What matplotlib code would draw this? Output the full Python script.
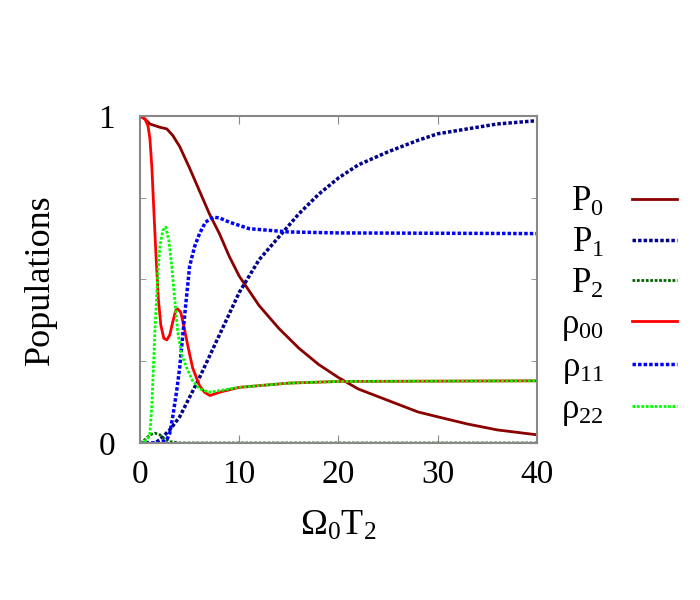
import numpy as np
import matplotlib.pyplot as plt
from matplotlib.ticker import MultipleLocator

plt.rcParams['font.family'] = 'Liberation Serif'
plt.rcParams['mathtext.fontset'] = 'custom'
plt.rcParams['mathtext.rm'] = 'Liberation Serif'
plt.rcParams['mathtext.it'] = 'Liberation Serif'

# values
p0_x = [0, 0.5, 1, 2, 2.7, 3.3, 4, 5, 6, 7, 8, 9, 10, 12, 14, 16, 18, 20, 22, 25, 28, 30, 33, 36, 40]
p0_y = [1, 0.99, 0.975, 0.965, 0.96, 0.94, 0.906, 0.84, 0.77, 0.7, 0.64, 0.57, 0.51, 0.42, 0.35, 0.29, 0.24, 0.2, 0.165, 0.13, 0.095, 0.08, 0.058, 0.04, 0.025]

p1_x = [0, 1.5, 2, 3, 4, 6, 8, 10, 12, 14, 16, 18, 20, 22, 25, 28, 30, 33, 36, 40]
p1_y = [0, 0, 0.01, 0.04, 0.08, 0.2, 0.33, 0.46, 0.56, 0.63, 0.7, 0.76, 0.81, 0.85, 0.89, 0.925, 0.945, 0.96, 0.975, 0.985]

p2_x = [0, 0.5, 1, 1.5, 2, 2.5, 3, 4, 40]
p2_y = [0, 0.01, 0.025, 0.03, 0.025, 0.012, 0.004, 0, 0]

r00_x = [0, 0.5, 0.8, 1.0, 1.2, 1.35, 1.6, 1.85, 2.1, 2.4, 2.7, 3.0, 3.3, 3.6, 3.8, 4.1, 4.4, 4.8, 5.3, 6, 6.5, 7.05, 8, 10, 15, 20, 40]
r00_y = [1, 0.99, 0.97, 0.93, 0.84, 0.74, 0.58, 0.44, 0.36, 0.32, 0.315, 0.33, 0.37, 0.405, 0.41, 0.4, 0.36, 0.3, 0.23, 0.175, 0.155, 0.145, 0.155, 0.17, 0.183, 0.188, 0.19]

r11_x = [0, 2, 2.7, 3.0, 3.3, 3.7, 4, 4.5, 5, 5.5, 6, 6.6, 7.4, 8, 9, 11, 15, 20, 40]
r11_y = [0, 0, 0.01, 0.03, 0.08, 0.16, 0.23, 0.39, 0.54, 0.6, 0.64, 0.675, 0.69, 0.688, 0.675, 0.655, 0.645, 0.642, 0.64]

r22_x = [0, 0.5, 0.8, 1, 1.2, 1.5, 1.8, 2, 2.3, 2.6, 2.9, 3.2, 3.5, 3.8, 4.2, 4.7, 5.3, 6, 7, 10, 15, 20, 40]
r22_y = [0, 0.005, 0.015, 0.03, 0.12, 0.34, 0.52, 0.6, 0.65, 0.66, 0.62, 0.54, 0.44, 0.34, 0.27, 0.23, 0.19, 0.165, 0.155, 0.17, 0.183, 0.188, 0.19]

fig = plt.figure(figsize=(7, 6), dpi=100)
ax = fig.add_axes([0.2, 0.2617, 0.567, 0.5453])

ax.plot(p0_x, p0_y, color='#8b0000', lw=2, label=r'P$_0$')
ax.plot(p1_x, p1_y, color='#00008b', lw=2.5, ls=(0, (1, 0.6)), label=r'P$_1$')
ax.plot(p2_x, p2_y, color='#006400', lw=2, ls=(0, (1, 0.6)), label=r'P$_2$')
ax.plot(r00_x, r00_y, color='#ff0000', lw=2, label=r'$\rho_{00}$')
ax.plot(r11_x, r11_y, color='#0000ff', lw=2.5, ls=(0, (1, 0.6)), label=r'$\rho_{11}$')
ax.plot(r22_x, r22_y, color='#00ff00', lw=2, ls=(0, (1, 0.6)), label=r'$\rho_{22}$')

ax.set_xlim(0, 40)
ax.set_ylim(0, 1)
ax.set_xticks([0, 10, 20, 30, 40])
ax.set_yticks([0, 1])
ax.yaxis.set_minor_locator(MultipleLocator(0.25))
ax.tick_params(which='both', direction='in', top=True, right=True, labelsize=24)
ax.tick_params(which='major', length=6)
ax.tick_params(which='minor', length=4)
ax.tick_params(axis='y', pad=18)
ax.tick_params(axis='x', pad=12)
for s in ax.spines.values():
    s.set_color('#888888')
    s.set_linewidth(1.5)
ax.tick_params(which='both', color='#888888', labelcolor='black')

ax.set_xlabel(r'$\Omega_0$T$_2$', fontsize=26, labelpad=14)
ax.set_ylabel('Populations', fontsize=26, labelpad=30)

ax.legend(loc='upper left', bbox_to_anchor=(1.0, 0.86), frameon=False,
          markerfirst=False, fontsize=25, labelspacing=0.22, handlelength=1.3,
          borderaxespad=0.3)

fig.savefig('out.png')
